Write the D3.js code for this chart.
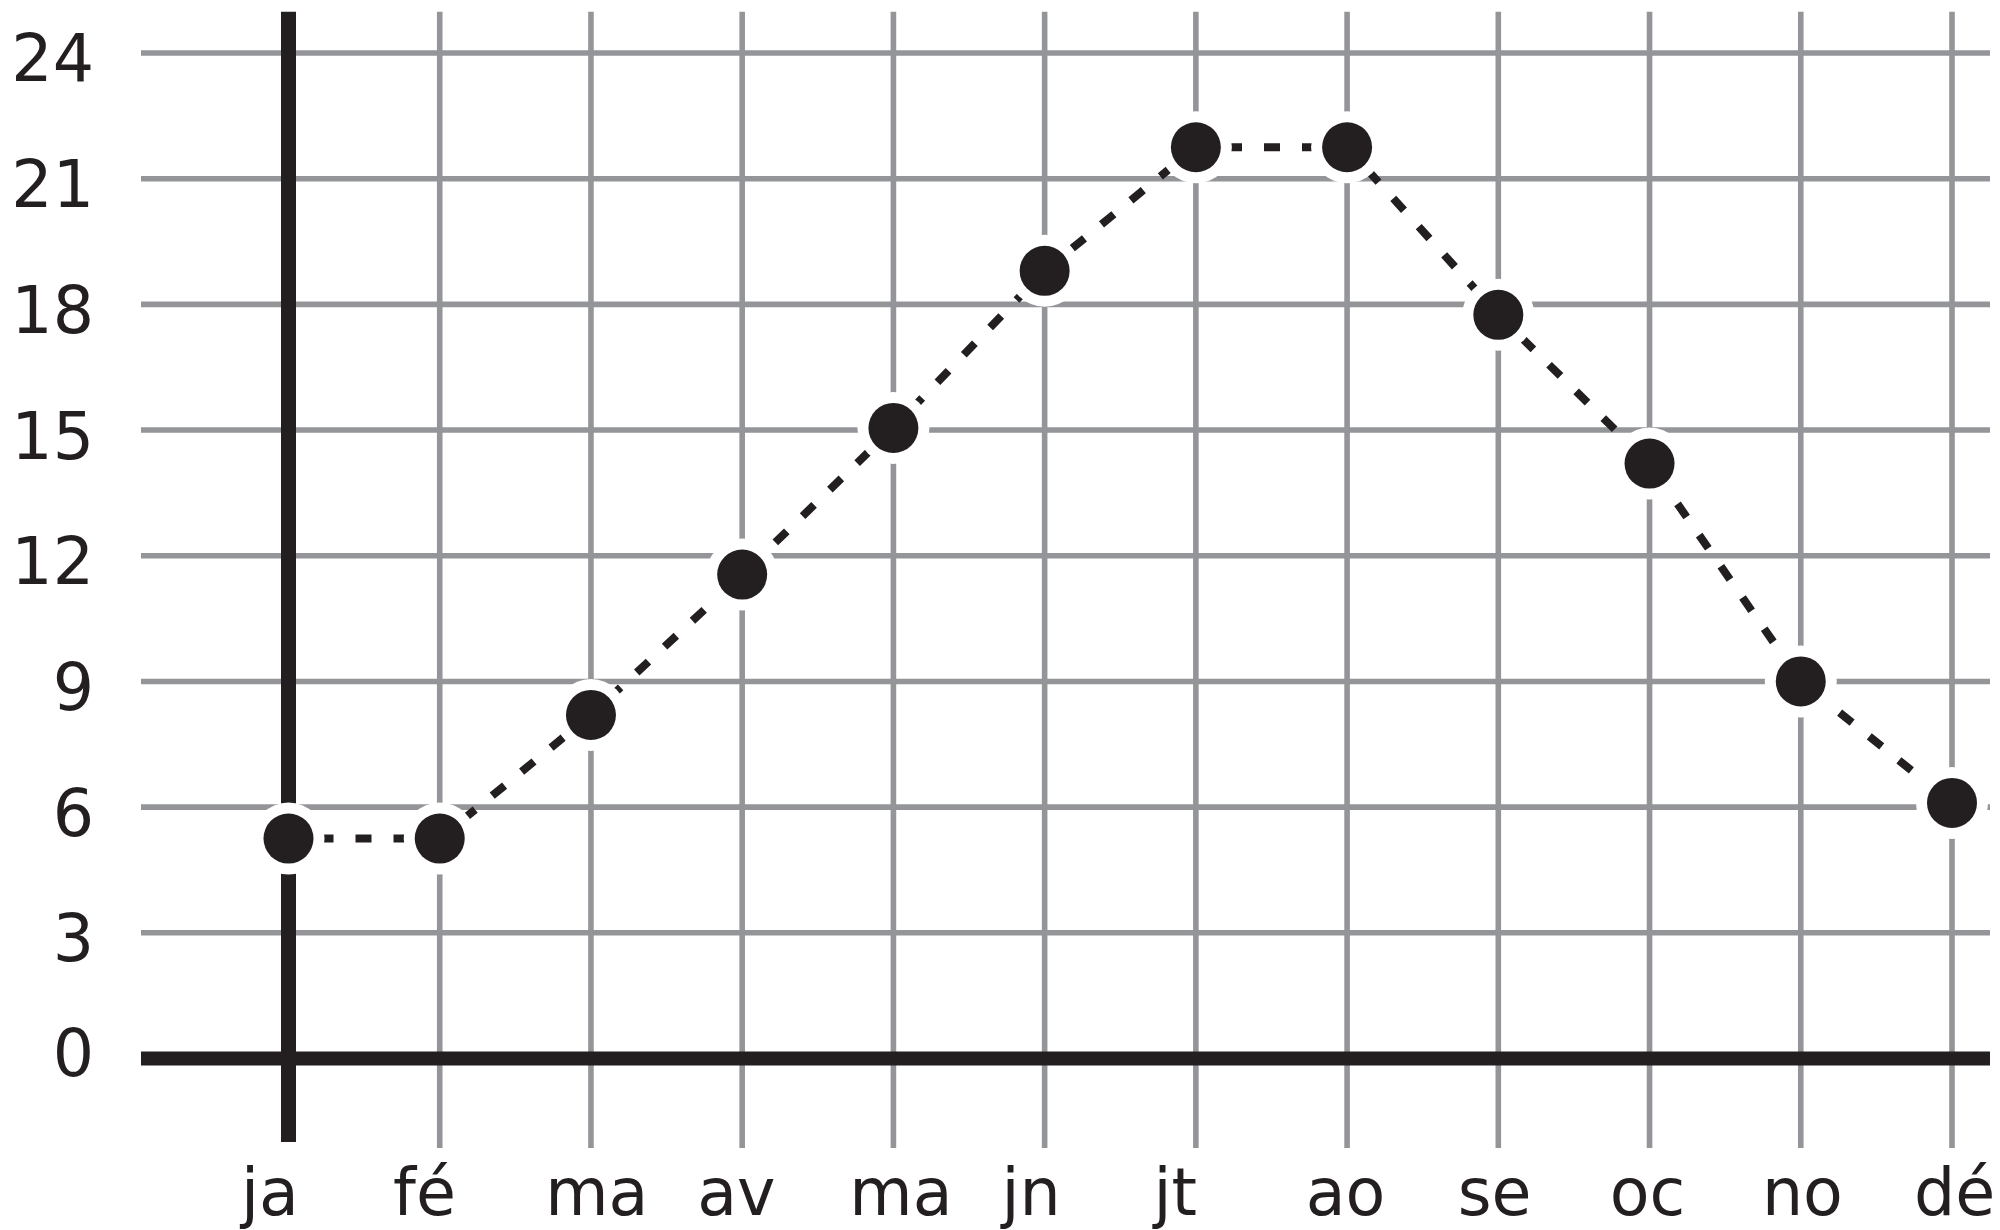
<!DOCTYPE html>
<html>
<head>
<meta charset="utf-8">
<script src="https://cdn.jsdelivr.net/npm/d3@7"></script>
<style>
  html, body { margin: 0; padding: 0; background: #ffffff; }
  svg { display: block; }
  text { font-family: "DejaVu Sans", Verdana, sans-serif; }
</style>
</head>
<body>
<svg id="chart" width="2000" height="1230"></svg>
<script>
// ---- data ----
const months = ["ja", "fé", "ma", "av", "ma", "jn", "jt", "ao", "se", "oc", "no", "dé"];
const temps  = [5.25, 5.25, 8.2, 11.55, 15.05, 18.8, 21.75, 21.75, 17.75, 14.2, 9.0, 6.1];
const yTicks = [0, 3, 6, 9, 12, 15, 18, 21, 24];

// ---- styles ----
const BLACK = "#231f20";
const GRAY = "#939598";

const svg = d3.select("#chart");
const idx = months.map((_, i) => i);

const x = d3.scalePoint().domain(idx).range([288.5, 1952]);
const xLabel = d3.scalePoint().domain(idx).range([241, 1914]);
const y = d3.scaleLinear().domain([0, 24]).range([1058.5, 53]);

const gridLeft = 141, gridRight = 1990, gridTop = 11.7, gridBottom = 1148;

// horizontal gridlines
svg.append("g").selectAll("line").data(yTicks.filter(v => v !== 0)).join("line")
  .attr("x1", gridLeft).attr("x2", gridRight)
  .attr("y1", d => y(d)).attr("y2", d => y(d))
  .attr("stroke", GRAY).attr("stroke-width", 5.6);

// vertical gridlines
svg.append("g").selectAll("line").data(idx.slice(1)).join("line")
  .attr("x1", d => x(d)).attr("x2", d => x(d))
  .attr("y1", gridTop).attr("y2", gridBottom)
  .attr("stroke", GRAY).attr("stroke-width", 5.6);

// y axis (thick black, at first month)
svg.append("line")
  .attr("x1", x(0)).attr("x2", x(0))
  .attr("y1", gridTop).attr("y2", 1142)
  .attr("stroke", BLACK).attr("stroke-width", 15);

// zero line
svg.append("line")
  .attr("x1", gridLeft).attr("x2", gridRight)
  .attr("y1", y(0)).attr("y2", y(0))
  .attr("stroke", BLACK).attr("stroke-width", 14);

// y tick labels via d3 axis
const yAxis = d3.axisLeft(y).tickValues(yTicks).tickSize(0).tickPadding(0).tickFormat(d3.format("d"));
const gy = svg.append("g").attr("transform", "translate(94,0)").call(yAxis);
gy.select(".domain").remove();
gy.selectAll("text")
  .attr("font-family", "'DejaVu Sans', Verdana, sans-serif")
  .attr("font-size", 65)
  .attr("fill", BLACK)
  .attr("dy", d => d === 0 ? "0.26em" : "0.43em");

// x labels
svg.append("g").selectAll("text").data(idx).join("text")
  .attr("x", d => xLabel(d))
  .attr("y", 1215)
  .attr("text-anchor", "start")
  .attr("font-size", 65)
  .attr("fill", BLACK)
  .text(d => months[d]);

// dashed line
const line = d3.line().x((d, i) => x(i)).y(d => y(d));
svg.append("path")
  .datum(temps)
  .attr("d", line)
  .attr("fill", "none")
  .attr("stroke", BLACK)
  .attr("stroke-width", 8)
  .attr("stroke-dasharray", "16 22")
  .attr("stroke-dashoffset", 9);

// white halos
svg.append("g").selectAll("circle").data(temps).join("circle")
  .attr("cx", (d, i) => x(i)).attr("cy", d => y(d))
  .attr("r", 36).attr("fill", "#ffffff");

// markers
svg.append("g").selectAll("circle").data(temps).join("circle")
  .attr("cx", (d, i) => x(i)).attr("cy", d => y(d))
  .attr("r", 25).attr("fill", BLACK);
</script>
</body>
</html>
